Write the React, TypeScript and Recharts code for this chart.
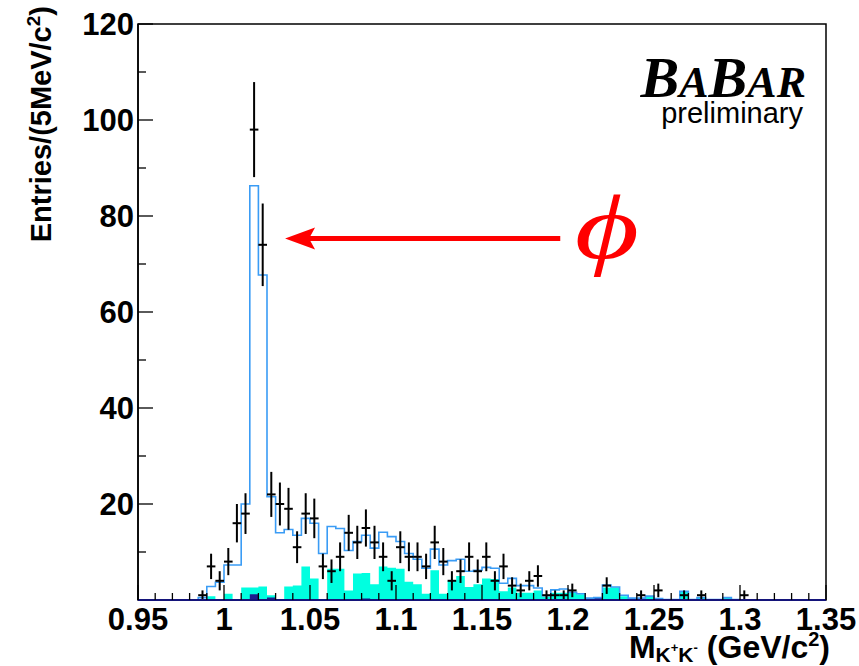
import React from 'react';
import {
  ComposedChart,
  Area,
  Line,
  Scatter,
  XAxis,
  YAxis,
  ErrorBar,
  ReferenceLine,
  ReferenceArea,
} from 'recharts';

// ---- bins (5 MeV) : centers in GeV/c^2 ----
const binCenters = [
  0.9825, 0.9875, 0.9925, 0.9975, 1.0025, 1.0075, 1.0125, 1.0175, 1.0225, 1.0275,
  1.0325, 1.0375, 1.0425, 1.0475, 1.0525, 1.0575, 1.0625, 1.0675, 1.0725, 1.0775,
  1.0825, 1.0875, 1.0925, 1.0975, 1.1025, 1.1075, 1.1125, 1.1175, 1.1225, 1.1275,
  1.1325, 1.1375, 1.1425, 1.1475, 1.1525, 1.1575, 1.1625, 1.1675, 1.1725, 1.1775,
  1.1825, 1.1875, 1.1925, 1.1975, 1.2025, 1.2075, 1.2125, 1.2175, 1.2225, 1.2275,
  1.2325, 1.2375, 1.2425, 1.2475, 1.2525, 1.2575, 1.2625, 1.2675, 1.2725, 1.2775,
  1.2825, 1.2875, 1.2925, 1.2975,
];

// total MC (blue outline)
const blueTotal = [
  0, 0.5, 2.8, 3.7, 7.3, 7.3, 20, 86.3, 67.7, 21.5,
  14, 14.7, 13.5, 17, 16, 9.7, 15.3, 14.9, 10.3, 12.2,
  13.5, 10.8, 14.1, 13.2, 12.2, 9.7, 8.5, 6.6, 10.6, 7.3,
  8.2, 8.5, 6, 6.2, 6.8, 6.6, 3.5, 4.5, 3, 3,
  2.5, 0.9, 2.1, 2.3, 1.6, 1.3, 0.4, 0.5, 3.1, 2.7,
  1, 0.4, 0.4, 0.8, 0.3, 0.1, 0.1, 1.8, 0.1, 0.5,
  0.1, 0.1, 0.5, 0.1,
];

// cyan filled component
const cyanComp = [
  0, 0, 0.8, 0, 1.3, 0, 2.6, 2.6, 2.8, 1,
  0, 2.8, 3, 7, 4.5, 0, 6.5, 6.5, 2, 5.5,
  5.6, 3.3, 7, 6.7, 6.5, 3.8, 3.3, 1.3, 6.2, 1.3,
  4, 5, 2.7, 3.3, 4.5, 4.4, 1.8, 2.6, 1.5, 1.5,
  2, 0.7, 1.5, 1.5, 1.5, 1.2, 0, 0, 2.6, 2.6,
  0.8, 0.4, 0.4, 0.8, 0.3, 0, 0, 1.7, 0, 0.5,
  0, 0, 0.4, 0,
];

// navy filled component
const navyComp = [
  0, 0, 0, 0, 0, 0, 0, 1.2, 0, 0.5,
  0, 0, 0, 0, 0, 0, 0, 0, 0, 0,
  0.3, 0, 0, 0, 0, 0, 0, 0, 0, 0,
  0, 0, 0, 0, 0, 0, 0, 0, 0, 0,
  0, 0, 0, 0, 0, 0, 0.3, 0.5, 0, 0,
  0, 0, 0, 0, 0, 0, 0, 0, 0, 0,
  0, 0, 0, 0,
];

// data points (black crosses)
const dataMass = [
  0.9875, 0.9925, 0.9975, 1.0025, 1.0075, 1.0125, 1.0175, 1.0225, 1.0275, 1.0325,
  1.0375, 1.0425, 1.0475, 1.0525, 1.0575, 1.0625, 1.0675, 1.0725, 1.0775, 1.0825,
  1.0875, 1.0925, 1.0975, 1.1025, 1.1075, 1.1125, 1.1175, 1.1225, 1.1275, 1.1325,
  1.1375, 1.1425, 1.1475, 1.1525, 1.1575, 1.1625, 1.1675, 1.1725, 1.1775, 1.1825,
  1.1875, 1.1925, 1.1975, 1.2025, 1.2225, 1.2425, 1.2525, 1.2675, 1.2775, 1.3025,
];
const dataCounts = [
  1, 7, 4, 8, 16, 18, 98, 74, 22, 20,
  19, 11, 18, 17, 7, 6, 9, 14, 12, 15,
  12, 9, 4, 11, 9, 9, 7, 12, 8, 4,
  6, 9, 6, 9, 4, 7, 3, 2, 4, 5,
  1, 1, 1, 2, 3, 1, 2, 1, 1, 1,
];

const xTicks = [
  0.95, 0.96, 0.97, 0.98, 0.99, 1.0, 1.01, 1.02, 1.03, 1.04,
  1.05, 1.06, 1.07, 1.08, 1.09, 1.1, 1.11, 1.12, 1.13, 1.14,
  1.15, 1.16, 1.17, 1.18, 1.19, 1.2, 1.21, 1.22, 1.23, 1.24,
  1.25, 1.26, 1.27, 1.28, 1.29, 1.3, 1.31, 1.32, 1.33, 1.34, 1.35,
];
const yTicks = [0, 10, 20, 30, 40, 50, 60, 70, 80, 90, 100, 110, 120];

const BIN_HALF = 0.0025;

const histData = binCenters.map((c, i) => ({
  x: +(c - BIN_HALF).toFixed(4),
  blue: blueTotal[i],
  cyan: cyanComp[i],
  navy: navyComp[i],
}));
histData.push({
  x: +(binCenters[binCenters.length - 1] + BIN_HALF).toFixed(4),
  blue: 0,
  cyan: 0,
  navy: 0,
});

const points = dataMass.map((m, i) => ({
  x: m,
  y: dataCounts[i],
  err: Math.sqrt(dataCounts[i]),
  xerr: BIN_HALF,
}));

const FONT = '"Liberation Sans", Arial, Helvetica, sans-serif';

const XTick = (props: any) => {
  const { x, y, payload } = props;
  const v = payload.value as number;
  const major = Math.abs(v * 20 - Math.round(v * 20)) < 1e-6;
  return (
    <g>
      <line x1={x} x2={x} y1={y} y2={y - (major ? 15 : 7)} stroke="#000" strokeWidth={1.3} />
      {major && (
        <text x={x} y={y + 30} textAnchor="middle" fontFamily={FONT} fontWeight="bold" fontSize={31} fill="#000">
          {String(Number(v.toFixed(2)))}
        </text>
      )}
    </g>
  );
};

const YTick = (props: any) => {
  const { x, y, payload } = props;
  const v = payload.value as number;
  const major = v % 20 === 0;
  return (
    <g>
      {v !== 0 && (
        <line x1={x} x2={x + (major ? 15 : 8)} y1={y} y2={y} stroke="#000" strokeWidth={1.3} />
      )}
      {major && v !== 0 && (
        <text x={x - 4} y={y + 11} textAnchor="end" fontFamily={FONT} fontWeight="bold" fontSize={31} fill="#000">
          {v}
        </text>
      )}
    </g>
  );
};

const ArrowShape = (props: any) => {
  const { x1, y1, x2, y2 } = props;
  const left = Math.min(x1, x2);
  const right = Math.max(x1, x2);
  const y = (y1 + y2) / 2;
  return (
    <g>
      <line x1={left + 20} x2={right} y1={y} y2={y} stroke="#ff0000" strokeWidth={5} />
      <polygon points={`${left},${y} ${left + 30},${y - 11} ${left + 24},${y} ${left + 30},${y + 11}`} fill="#ff0000" />
    </g>
  );
};

const NoShape = () => <g />;

export default function App() {
  return (
    <div style={{ position: 'absolute', left: 0, top: 0, width: 859, height: 666, background: '#fff' }}>
      <ComposedChart
        width={859}
        height={666}
        data={histData}
        margin={{ top: 24, right: 33, left: 0, bottom: 0 }}
      >
        <XAxis
          type="number"
          dataKey="x"
          domain={[0.95, 1.35]}
          ticks={xTicks}
          interval={0}
          allowDataOverflow
          height={66}
          tickLine={false}
          tickSize={0}
          tickMargin={0}
          axisLine={{ stroke: '#14147a', strokeWidth: 2 }}
          tick={<XTick />}
        />
        <YAxis
          type="number"
          domain={[0, 120]}
          ticks={yTicks}
          interval={0}
          allowDataOverflow
          width={138}
          tickLine={false}
          tickSize={0}
          tickMargin={0}
          axisLine={{ stroke: '#000', strokeWidth: 1.5 }}
          tick={<YTick />}
        />
        <Area
          type="stepAfter"
          dataKey="cyan"
          stroke="none"
          fill="#00ffe0"
          fillOpacity={1}
          isAnimationActive={false}
          dot={false}
          activeDot={false}
        />
        <Area
          type="stepAfter"
          dataKey="navy"
          stroke="none"
          fill="#1c1c8e"
          fillOpacity={1}
          isAnimationActive={false}
          dot={false}
          activeDot={false}
        />
        <Line
          type="stepAfter"
          dataKey="blue"
          stroke="#3a9cf5"
          strokeWidth={1.6}
          dot={false}
          activeDot={false}
          isAnimationActive={false}
        />
        <Scatter data={points} dataKey="y" shape={<NoShape />} isAnimationActive={false}>
          <ErrorBar dataKey="err" direction="y" width={0} stroke="#000" strokeWidth={2} />
          <ErrorBar dataKey="xerr" direction="x" width={0} stroke="#000" strokeWidth={2} />
        </Scatter>
        <ReferenceLine
          segment={[{ x: 1.0355, y: 75.3 }, { x: 1.1955, y: 75.3 }]}
          shape={<ArrowShape />}
          ifOverflow="visible"
        />
        <ReferenceArea
          x1={0.95}
          x2={1.35}
          y1={0}
          y2={120}
          fill="none"
          fillOpacity={0}
          stroke="#000"
          strokeWidth={1.5}
          ifOverflow="visible"
        />
      </ComposedChart>
      <svg
        width={859}
        height={666}
        style={{ position: 'absolute', left: 0, top: 0, pointerEvents: 'none' }}
      >
        <text
          transform="translate(51,6) rotate(-90)"
          textAnchor="end"
          fontFamily={FONT}
          fontWeight="bold"
          fontSize={29}
          fill="#000"
        >
          Entries/(5MeV/c<tspan fontSize={19} dy={-11}>2</tspan>
          <tspan dy={11}>)</tspan>
        </text>
        <text x={830} y={658} textAnchor="end" fontFamily={FONT} fontWeight="bold" fontSize={32} fill="#000">
          M<tspan fontSize={21} dy={4}>K</tspan>
          <tspan fontSize={13} dy={-10}>+</tspan>
          <tspan fontSize={21} dy={10}>K</tspan>
          <tspan fontSize={13} dy={-10}>-</tspan>
          <tspan dx={9} dy={6}>(GeV/c</tspan>
          <tspan fontSize={20} dy={-12}>2</tspan>
          <tspan dy={12}>)</tspan>
        </text>
        <text
          x={806}
          y={97}
          textAnchor="end"
          fontFamily='"Liberation Serif", "Times New Roman", serif'
          fontStyle="italic"
          fontWeight="bold"
          fill="#000"
        >
          <tspan fontSize={58}>B</tspan>
          <tspan fontSize={44}>A</tspan>
          <tspan fontSize={58}>B</tspan>
          <tspan fontSize={44}>AR</tspan>
        </text>
        <text x={803} y={123} textAnchor="end" fontFamily={FONT} fontSize={29} fill="#000">
          preliminary
        </text>
        <text
          transform="translate(607,258) scale(1.35,1)"
          textAnchor="middle"
          fontFamily='"Liberation Serif", "Times New Roman", serif'
          fontStyle="italic"
          fontSize={92}
          fill="#ff0000"
        >
          ϕ
        </text>
      </svg>
    </div>
  );
}
